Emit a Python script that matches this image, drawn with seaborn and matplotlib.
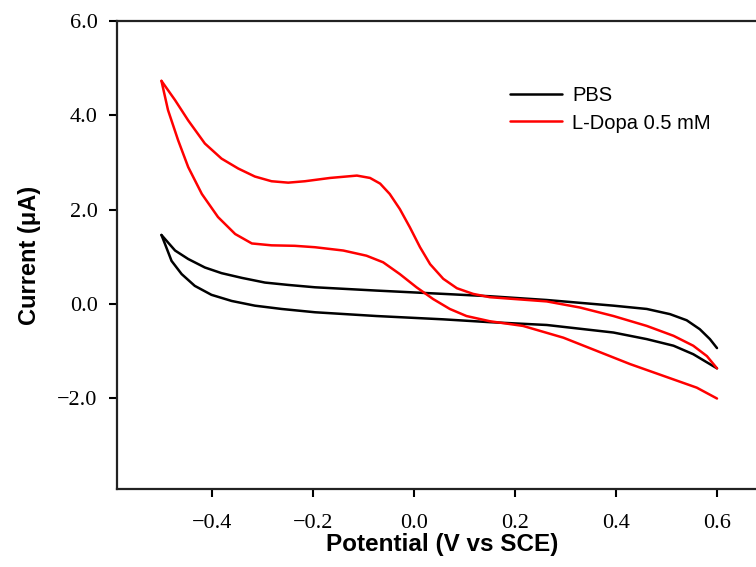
import matplotlib
matplotlib.use("Agg")
import matplotlib.pyplot as plt
import pandas as pd
import seaborn as sns

# PBS, forward scan (-0.5 -> 0.6 V)
pbs_fwd_x = [-0.50, -0.473, -0.447, -0.414, -0.381, -0.341, -0.295, -0.249, -0.196,
             -0.074, 0.058, 0.150, 0.263, 0.395, 0.461, 0.507, 0.540, 0.566, 0.586, 0.600]
pbs_fwd_y = [1.46, 1.13, 0.95, 0.77, 0.65, 0.55, 0.45, 0.40, 0.35,
             0.28, 0.21, 0.16, 0.08, -0.04, -0.11, -0.22, -0.35, -0.54, -0.75, -0.94]
# PBS, reverse scan (0.6 -> -0.5 V)
pbs_rev_x = [0.600, 0.553, 0.514, 0.461, 0.395, 0.263, 0.150, 0.058, -0.074, -0.196,
             -0.262, -0.315, -0.361, -0.401, -0.434, -0.460, -0.480, -0.493, -0.50]
pbs_rev_y = [-1.37, -1.07, -0.89, -0.75, -0.61, -0.45, -0.39, -0.33, -0.26, -0.18,
             -0.11, -0.04, 0.06, 0.19, 0.38, 0.63, 0.91, 1.27, 1.46]

# L-Dopa 0.5 mM, forward scan
dopa_fwd_x = [-0.50, -0.473, -0.447, -0.414, -0.381, -0.348, -0.315, -0.282, -0.249,
              -0.216, -0.166, -0.113, -0.087, -0.067, -0.048, -0.028, -0.008, 0.012,
              0.032, 0.058, 0.085, 0.117, 0.150, 0.263, 0.329, 0.395, 0.461, 0.514,
              0.553, 0.580, 0.600]
dopa_fwd_y = [4.73, 4.32, 3.89, 3.40, 3.08, 2.87, 2.70, 2.60, 2.57,
              2.60, 2.67, 2.72, 2.67, 2.55, 2.33, 2.01, 1.62, 1.20,
              0.84, 0.53, 0.33, 0.21, 0.14, 0.05, -0.08, -0.26, -0.47, -0.68,
              -0.89, -1.11, -1.37]
# L-Dopa 0.5 mM, reverse scan
dopa_rev_x = [0.600, 0.560, 0.494, 0.428, 0.362, 0.296, 0.216, 0.150, 0.104, 0.071,
              0.038, 0.005, -0.028, -0.061, -0.094, -0.140, -0.196, -0.236, -0.282,
              -0.321, -0.354, -0.388, -0.420, -0.447, -0.467, -0.487, -0.50]
dopa_rev_y = [-2.01, -1.78, -1.53, -1.28, -1.00, -0.72, -0.47, -0.37, -0.26, -0.11,
              0.10, 0.35, 0.63, 0.88, 1.02, 1.13, 1.20, 1.23, 1.24,
              1.28, 1.48, 1.84, 2.33, 2.90, 3.47, 4.11, 4.73]

series = ["PBS", "L-Dopa 0.5 mM"]
colors = {"PBS": "black", "L-Dopa 0.5 mM": "#ff0000"}

parts = []
for name, branch, xs, ys in [
    ("PBS", "fwd", pbs_fwd_x, pbs_fwd_y),
    ("PBS", "rev", pbs_rev_x, pbs_rev_y),
    ("L-Dopa 0.5 mM", "fwd", dopa_fwd_x, dopa_fwd_y),
    ("L-Dopa 0.5 mM", "rev", dopa_rev_x, dopa_rev_y),
]:
    parts.append(pd.DataFrame({"potential": xs, "current": ys,
                               "series": name, "branch": branch}))
df = pd.concat(parts, ignore_index=True)

sns.set_style("ticks")
plt.rcParams["font.family"] = ["Liberation Sans", "DejaVu Sans"]
plt.rcParams["text.color"] = "black"
plt.rcParams["axes.labelcolor"] = "black"
plt.rcParams["xtick.color"] = "black"
plt.rcParams["ytick.color"] = "black"

fig = plt.figure(figsize=(7.56, 5.67), dpi=100)
ax = fig.add_axes([117 / 756, 1 - 489 / 567, (767.5 - 117) / 756, (489 - 21) / 567])

sns.lineplot(data=df, x="potential", y="current", hue="series", hue_order=series,
             units="branch", estimator=None, sort=False, palette=colors,
             linewidth=1.8, ax=ax)

ax.set_xlim(-0.588, 0.70)
ax.set_ylim(-3.93, 6.0)
ax.set_xticks([-0.4, -0.2, 0.0, 0.2, 0.4, 0.6])
ax.set_yticks([-2.0, 0.0, 2.0, 4.0, 6.0])
ax.set_xticklabels(["\u22120.4", "\u22120.2", "0.0", "0.2", "0.4", "0.6"],
                   family="Liberation Serif", fontsize=16)
ax.set_yticklabels(["\u22122.0", "0.0", "2.0", "4.0", "6.0"],
                   family="Liberation Serif", fontsize=16)
ax.tick_params(axis="x", direction="out", length=6, width=1.5, pad=12)
ax.tick_params(axis="y", direction="out", length=6, width=1.5, pad=8)
for side in ["left", "bottom", "top", "right"]:
    ax.spines[side].set_linewidth(1.6)
    ax.spines[side].set_color("#222222")

ax.set_xlabel("Potential (V vs SCE)", fontsize=17.5, fontweight="bold", labelpad=0)
ax.set_ylabel("Current (\u03bcA)", fontsize=17, fontweight="bold", labelpad=12)

handles, labels = ax.get_legend_handles_labels()
ax.legend(handles, labels, loc="upper left", bbox_to_anchor=(500 / 756, 1 - 76 / 567),
          bbox_transform=fig.transFigure, frameon=False, fontsize=14.5,
          handlelength=2.6, handletextpad=0.5, labelspacing=0.42, borderpad=0)

fig.savefig("out.png", dpi=100)
